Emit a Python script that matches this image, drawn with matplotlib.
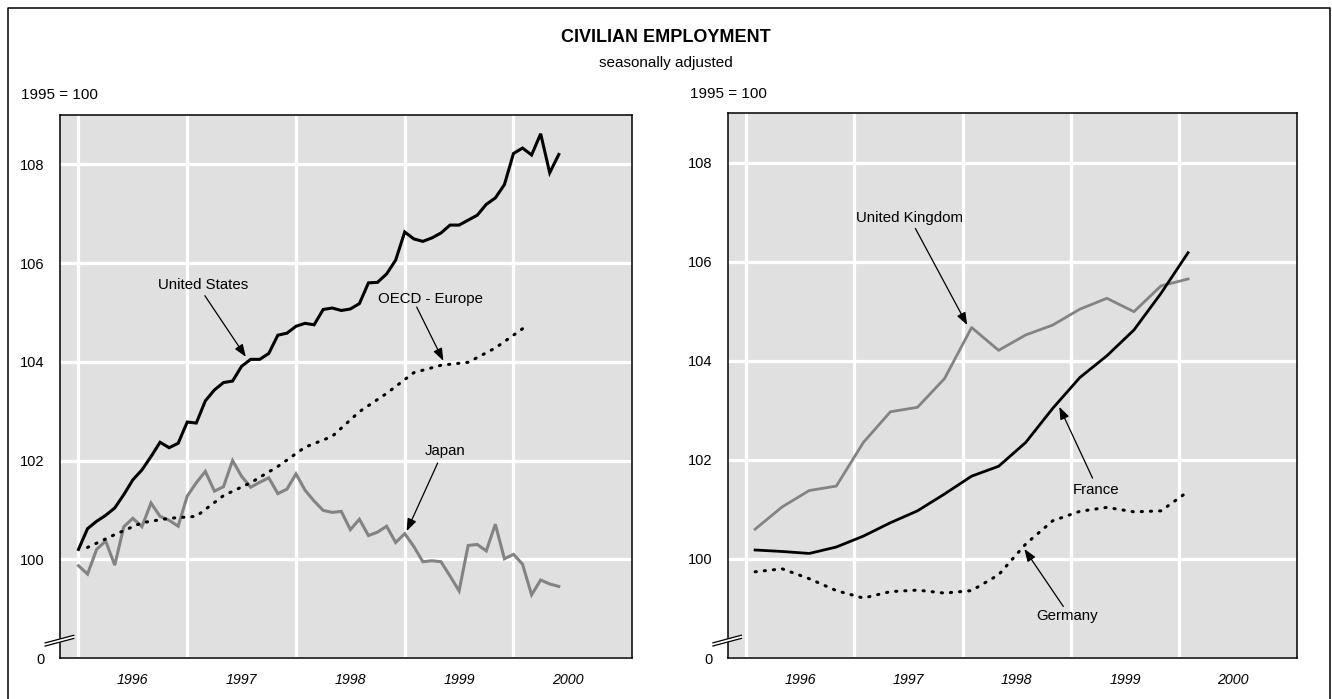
import matplotlib
matplotlib.use('Agg')
import matplotlib.pyplot as plt
import numpy as np
from matplotlib.lines import Line2D
from matplotlib.patches import Polygon

plt.rcParams['font.family'] = ['Liberation Sans', 'DejaVu Sans']

# ---------------- data ----------------
year_labels = ['1996', '1997', '1998', '1999', '2000']
y_tick_values = [98, 100, 102, 104, 106, 108]
y_tick_labels = ['0', '100', '102', '104', '106', '108']

# monthly, Jan 1996 - Jun 2000
united_states = [100.20, 100.62, 100.77, 100.89, 101.04, 101.31, 101.61, 101.81, 102.08, 102.37,
                 102.26, 102.35, 102.78, 102.76, 103.21, 103.43, 103.58, 103.61, 103.91, 104.05,
                 104.05, 104.17, 104.54, 104.58, 104.72, 104.78, 104.75, 105.06, 105.09, 105.04,
                 105.07, 105.18, 105.60, 105.61, 105.78, 106.06, 106.63, 106.49, 106.44, 106.51,
                 106.61, 106.77, 106.77, 106.87, 106.97, 107.19, 107.32, 107.59, 108.22, 108.33,
                 108.19, 108.62, 107.83, 108.20]
japan = [99.87, 99.70, 100.20, 100.37, 99.88, 100.66, 100.83, 100.66, 101.14, 100.87,
         100.79, 100.67, 101.28, 101.55, 101.78, 101.38, 101.47, 102.00, 101.68, 101.46,
         101.56, 101.65, 101.33, 101.42, 101.73, 101.40, 101.18, 100.99, 100.95, 100.97,
         100.60, 100.81, 100.48, 100.55, 100.67, 100.34, 100.52, 100.26, 99.95, 99.97,
         99.95, 99.66, 99.36, 100.28, 100.30, 100.17, 100.71, 100.01, 100.10, 99.90,
         99.28, 99.58, 99.50, 99.45]

# quarterly, 1996 Q1 - 2000 Q1
oecd_europe = [100.24, 100.50, 100.74, 100.83, 100.87, 101.29, 101.55, 101.88, 102.27,
               102.49, 102.99, 103.36, 103.78, 103.93, 103.99, 104.28, 104.67]
united_kingdom = [100.60, 101.05, 101.38, 101.47, 102.35, 102.97, 103.06, 103.64, 104.67,
                  104.21, 104.52, 104.72, 105.04, 105.26, 104.99, 105.51, 105.65]
france = [100.18, 100.15, 100.11, 100.24, 100.46, 100.73, 100.97, 101.31, 101.67,
          101.87, 102.35, 103.04, 103.66, 104.10, 104.62, 105.36, 106.18]
germany = [99.74, 99.80, 99.60, 99.36, 99.21, 99.34, 99.37, 99.31, 99.36,
           99.68, 100.30, 100.77, 100.96, 101.04, 100.95, 100.97, 101.36]

first_year = int(year_labels[0])
month_x = first_year + np.arange(len(united_states)) / 12.0
quarter_x = first_year + (3 * np.arange(len(oecd_europe)) + 1) / 12.0
year_x = np.array([int(y) for y in year_labels])

# ---------------- figure ----------------
W, H = 1332, 699
fig = plt.figure(figsize=(W / 100, H / 100), dpi=100)

BG = '#e0e0e0'
GREY = '#838383'
LW = 2.2
DOT = (0, (0.4, 2.6))


def px_axes(x0, y0, x1, y1):
    return fig.add_axes([x0 / W, 1 - y1 / H, (x1 - x0) / W, (y1 - y0) / H])


def style_axes(ax):
    ax.set_facecolor(BG)
    ax.set_xlim(1995.83, 2001.09)
    ax.set_ylim(98.0, 109.0)
    ax.set_xticks(year_x)
    ax.set_xticklabels([])
    ax.set_xticks(year_x + 0.5, minor=True)
    ax.set_xticklabels(year_labels, minor=True, fontstyle='italic', fontsize=10.3)
    ax.tick_params(axis='x', which='both', length=0)
    ax.tick_params(axis='x', which='minor', pad=11)
    ax.set_yticks(y_tick_values)
    ax.set_yticklabels(y_tick_labels, fontsize=10.5)
    ax.tick_params(axis='y', length=0, pad=11)
    ax.set_axisbelow(True)
    ax.grid(True, which='major', color='white', lw=2.3)
    for s in ax.spines.values():
        s.set_linewidth(1.1)
        s.set_color('black')
    # axis break marks
    d = 0.0058
    xs = np.array([-0.026, 0.024])
    ys = np.array([0.022, 0.036])
    poly = Polygon([[xs[0], ys[0]], [xs[1], ys[1]], [xs[1], ys[1] + d], [xs[0], ys[0] + d]],
                   closed=True, transform=ax.transAxes, facecolor='white', edgecolor='none',
                   clip_on=False, zorder=5)
    ax.add_patch(poly)
    for off in (0, d):
        ax.add_line(Line2D(xs, ys + off, transform=ax.transAxes, color='black', lw=0.9,
                           clip_on=False, zorder=6))


def note(ax, text, text_xy, tail, tip):
    ax.text(text_xy[0], text_xy[1], text, ha='center', va='center', fontsize=10.8, zorder=7)
    ax.annotate('', xy=tip, xytext=tail,
                arrowprops=dict(arrowstyle='-|>,head_length=0.75,head_width=0.28',
                                mutation_scale=10, color='black', lw=0.9,
                                shrinkA=0, shrinkB=0),
                zorder=7)


# left panel
axl = px_axes(60, 115, 632, 658)
style_axes(axl)
axl.plot(month_x, japan, color=GREY, lw=LW, solid_joinstyle='miter', zorder=3)
axl.plot(quarter_x, oecd_europe, color='black', lw=LW, linestyle=DOT,
         dash_capstyle='round', zorder=3)
axl.plot(month_x, united_states, color='black', lw=LW, solid_joinstyle='miter', zorder=4)
note(axl, 'United States', (1997.142, 105.565), (1997.162, 105.34), (1997.539, 104.10))
note(axl, 'OECD - Europe', (1999.240, 105.28), (1999.110, 105.11), (1999.355, 104.02))
note(axl, 'Japan', (1999.375, 102.20), (1999.303, 101.95), (1999.018, 100.57))

# right panel
axr = px_axes(727.7, 113, 1297, 658)
style_axes(axr)
axr.plot(quarter_x, united_kingdom, color=GREY, lw=2.0, zorder=3)
axr.plot(quarter_x, germany, color='black', lw=LW, linestyle=DOT,
         dash_capstyle='round', zorder=3)
axr.plot(quarter_x, france, color='black', lw=2.0, zorder=4)
note(axr, 'United Kingdom', (1997.514, 106.89), (1997.564, 106.67), (1998.043, 104.72))
note(axr, 'France', (1999.235, 101.39), (1999.201, 101.63), (1998.894, 103.07))
note(axr, 'Germany', (1998.968, 98.857), (1998.931, 99.04), (1998.571, 100.20))

# titles
fig.text(666 / W, 1 - 37 / H, 'CIVILIAN EMPLOYMENT', ha='center', va='center',
         fontsize=13, fontweight='bold')
fig.text(666 / W, 1 - 63 / H, 'seasonally adjusted', ha='center', va='center', fontsize=11)
fig.text(21 / W, 1 - 95 / H, '1995 = 100', ha='left', va='center', fontsize=11)
fig.text(690 / W, 1 - 94 / H, '1995 = 100', ha='left', va='center', fontsize=11)

# outer frame
frame_x = np.array([8, 8, 1330, 1330]) / W
frame_y = 1 - np.array([699, 8, 8, 699]) / H
fig.add_artist(Line2D(frame_x, frame_y, color='black', lw=1.1, transform=fig.transFigure))

fig.savefig('out.png', dpi=100)
